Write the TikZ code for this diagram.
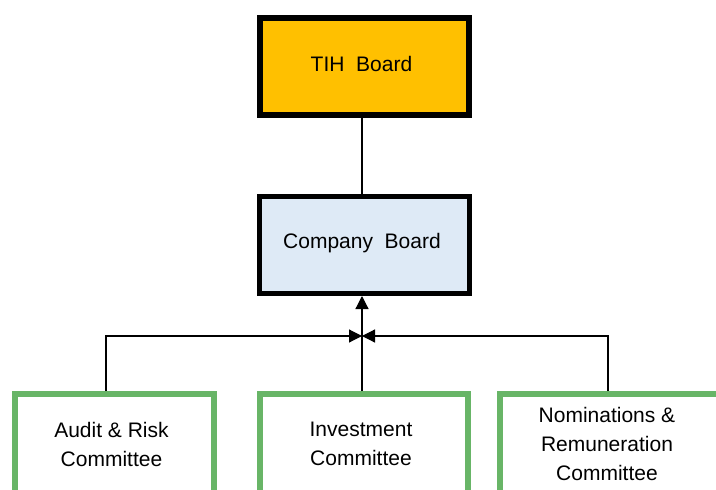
\documentclass[tikz,border=0pt]{standalone}
\usepackage{fontspec}
\setmainfont{Liberation Sans}
\usetikzlibrary{arrows.meta}
\definecolor{tihfill}{HTML}{FFC000}
\definecolor{cbfill}{HTML}{DEEAF6}
\definecolor{cgreen}{HTML}{68B567}
\tikzset{
  boardbox/.style={draw=black, inner sep=0pt, anchor=north west},
  combox/.style={draw=cgreen, line width=6pt, inner sep=0pt, anchor=north west, fill=white},
  lbl/.style={font=\fontsize{21}{29}\selectfont, align=center, text=black},
  conn/.style={line width=1.2pt, draw=black},
  tip/.style={-{Triangle[length=13pt,width=13pt]}}
}
\begin{document}
\begin{tikzpicture}[x=1pt,y=-1pt]
\clip (0,0) rectangle (716,490);
\fill[white] (0,0) rectangle (716,490);
% boards
\node[boardbox, line width=6pt, fill=tihfill, minimum width=209pt, minimum height=97pt] (tih) at (257,15) {};
\node[lbl] (tiht) at (361.5,64) {TIH\ \ Board};
\node[boardbox, line width=5pt, fill=cbfill, minimum width=210pt, minimum height=97pt] (cb) at (257,194) {};
\node[lbl] (cbt) at (362,243) {Company\ \ Board};
% committees
\node[combox, minimum width=199pt, minimum height=200pt] (aud) at (12,391) {};
\node[combox, minimum width=208pt, minimum height=200pt] (inv) at (257,391) {};
\node[combox, minimum width=220pt, minimum height=200pt] (nom) at (497,391) {};
\node[lbl] (audt) at (111.5,444) {Audit \& Risk\\Committee};
\node[lbl] (invt) at (361,444) {Investment\\Committee};
\node[lbl] (nomt) at (607,444) {Nominations \&\\Remuneration\\Committee};
% connectors
\coordinate (j) at (362,336);
\draw[conn] (tih.south -| j) -- (cb.north -| j);
\draw[conn, tip] (inv.north -| j) -- (cb.south -| j);
\draw[conn, tip] (aud.north -| 106,0) |- (j);
\draw[conn, tip] (nom.north -| 608,0) |- (j);
\end{tikzpicture}
\end{document}
